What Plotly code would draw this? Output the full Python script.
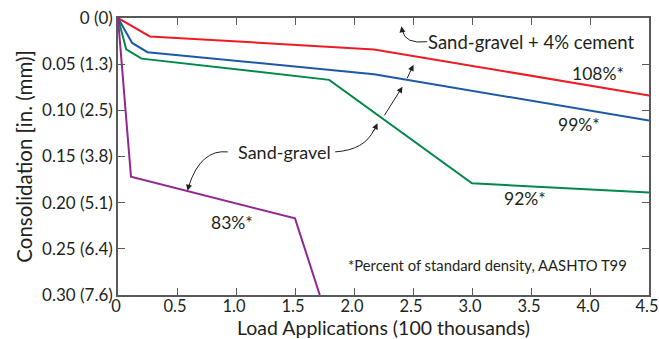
import plotly.graph_objects as go

# Consolidation vs. load applications for each compaction level
load_108 = [0, 0.27, 2.17, 4.5]
cons_108 = [0, 0.020, 0.034, 0.084]

load_99 = [0, 0.12, 0.25, 2.17, 4.5]
cons_99 = [0, 0.027, 0.037, 0.061, 0.111]

load_92 = [0, 0.07, 0.20, 1.79, 3.0, 4.5]
cons_92 = [0, 0.034, 0.044, 0.067, 0.179, 0.189]

load_83 = [0, 0.11, 1.5, 1.71]
cons_83 = [0, 0.172, 0.217, 0.30]

x_ticks = [0, 0.5, 1.0, 1.5, 2.0, 2.5, 3.0, 3.5, 4.0, 4.5]
x_tick_text = ["0", "0.5", "1.0", "1.5", "2.0", "2.5", "3.0", "3.5", "4.0", "4.5"]
y_ticks = [0, 0.05, 0.10, 0.15, 0.20, 0.25, 0.30]
y_tick_text = ["0 (0)", "0.05 (1.3)", "0.10 (2.5)", "0.15 (3.8)",
               "0.20 (5.1)", "0.25 (6.4)", "0.30 (7.6)"]

FONT = "Lato"
TXT = "#231f20"
RED, BLUE, GREEN, PURPLE = "#ed1c24", "#1c5aa8", "#00894a", "#92278f"

fig = go.Figure()
for xs, ys, col in [(load_108, cons_108, RED), (load_99, cons_99, BLUE),
                    (load_92, cons_92, GREEN), (load_83, cons_83, PURPLE)]:
    fig.add_trace(go.Scatter(x=xs, y=ys, mode="lines",
                             line=dict(color=col, width=2), showlegend=False,
                             hoverinfo="skip"))

def label(x, y, text, size=17.5, xanchor="center"):
    fig.add_annotation(x=x, y=y, text=text, showarrow=False, xanchor=xanchor,
                       yanchor="middle", font=dict(family=FONT, size=size, color=TXT))

label(3.5, 0.0255, "Sand-gravel + 4% cement", size=18.5)
label(4.07, 0.060, "108%*")
label(3.91, 0.115, "99%*")
label(3.45, 0.196, "92%*")
label(0.97, 0.221, "83%*")
label(1.41, 0.1455, "Sand-gravel", size=18)
label(1.93, 0.2675, "*Percent of standard density, AASHTO T99", size=14.8, xanchor="left")

# x-axis title, placed below the tick labels
fig.add_annotation(x=0.5, y=0, xref="paper", yref="paper", yshift=-32.5,
                   text="Load Applications (100 thousands)", showarrow=False,
                   xanchor="center", yanchor="middle", borderpad=0,
                   font=dict(family=FONT, size=19.5, color=TXT))

# curved leader lines
curves = [
    "M 2.62,0.0257 Q 2.43,0.0285 2.41,0.0135",
    "M 1.84,0.145 Q 2.09,0.143 2.17,0.121",
    "M 0.93,0.145 Q 0.70,0.142 0.60,0.182",
]
for p in curves:
    fig.add_shape(type="path", path=p, xref="x", yref="y",
                  line=dict(color=TXT, width=1))

# arrowheads (head point, tail point)
arrows = [
    ((2.402, 0.0090), (2.410, 0.0150)),
    ((2.199, 0.1140), (2.165, 0.1235)),
    ((0.590, 0.1870), (0.605, 0.1790)),
    ((2.411, 0.0744), (2.25, 0.107)),
    ((2.504, 0.0506), (2.445, 0.0668)),
]
for (hx, hy), (tx, ty) in arrows:
    fig.add_annotation(x=hx, y=hy, ax=tx, ay=ty, xref="x", yref="y",
                       axref="x", ayref="y", text="", showarrow=True,
                       arrowhead=2, arrowsize=1.2, arrowwidth=1,
                       arrowcolor=TXT, standoff=0, startstandoff=0)

axis_common = dict(showline=True, linecolor="#58595b", linewidth=1.5,
                   mirror="ticks", ticks="inside", ticklen=7, tickwidth=1,
                   tickcolor="#58595b", showgrid=False, zeroline=False,
                   automargin=False, ticklabeloverflow="allow")

fig.update_xaxes(range=[0, 4.5], tickvals=x_ticks, ticktext=x_tick_text,
                 tickfont=dict(family=FONT, size=16.5, color=TXT),
                 ticklabelstandoff=-5, ticklabelshift=-2,
                 **axis_common)
fig.update_yaxes(range=[0.30, 0], tickvals=y_ticks, ticktext=y_tick_text,
                 tickfont=dict(family=FONT, size=17, color=TXT),
                 title=dict(text="Consolidation [in. (mm)]",
                            font=dict(family=FONT, size=20.5, color=TXT), standoff=4),
                 **axis_common)

fig.update_layout(width=659, height=339, margin=dict(l=118, r=10, t=18, b=44),
                  plot_bgcolor="white", paper_bgcolor="white")

fig.write_html("out.html")
